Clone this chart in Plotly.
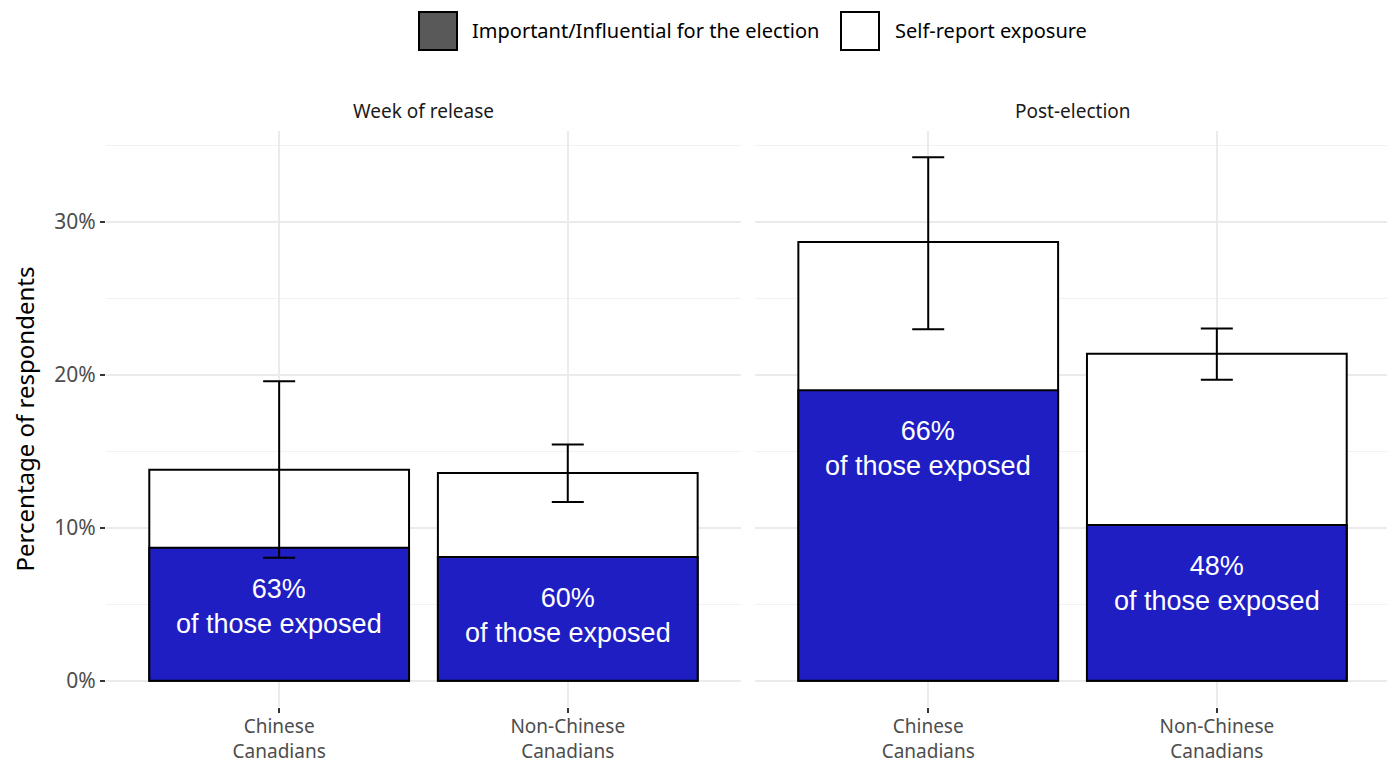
import plotly.graph_objects as go

groups = ["Chinese<br>Canadians", "Non-Chinese<br>Canadians"]
periods = ["Week of release", "Post-election"]

# percentages of respondents
exposure_week = [13.8, 13.6]
exposure_post = [28.7, 21.4]
influential_week = [8.7, 8.1]
influential_post = [19.0, 10.2]
ci_low_week = [8.05, 11.7]
ci_high_week = [19.6, 15.45]
ci_low_post = [23.0, 19.7]
ci_high_post = [34.25, 23.05]
share_week = ["63%", "60%"]
share_post = ["66%", "48%"]

BLUE = "#1e1ec3"
FONT = "Noto Sans"

panels = [
    (exposure_week, influential_week, ci_low_week, ci_high_week, share_week, "x", "y"),
    (exposure_post, influential_post, ci_low_post, ci_high_post, share_post, "x2", "y2"),
]

fig = go.Figure()
annotations = []
for expo, infl, lo, hi, share, xa, ya in panels:
    fig.add_trace(go.Bar(
        x=groups, y=expo, width=0.9, xaxis=xa, yaxis=ya,
        marker=dict(color="white", line=dict(color="black", width=2)),
        showlegend=False, hoverinfo="skip"))
    fig.add_trace(go.Bar(
        x=groups, y=infl, width=0.9, xaxis=xa, yaxis=ya,
        marker=dict(color=BLUE, line=dict(color="black", width=2)),
        showlegend=False, hoverinfo="skip"))
    fig.add_trace(go.Scatter(
        x=groups, y=expo, xaxis=xa, yaxis=ya, mode="markers",
        marker=dict(size=0.1, color="black", opacity=0),
        error_y=dict(type="data", symmetric=False,
                     array=[h - e for h, e in zip(hi, expo)],
                     arrayminus=[e - l for e, l in zip(expo, lo)],
                     color="black", thickness=2, width=16),
        showlegend=False, hoverinfo="skip"))
    for g, v, s in zip(groups, infl, share):
        annotations.append(dict(
            x=g, y=v, xref=xa, yref=ya, yanchor="top", yshift=-24,
            text=s + "<br>of those exposed", showarrow=False,
            font=dict(family="Liberation Sans", size=27, color="white")))

# facet strip titles
dom1 = [0, 0.4945]
dom2 = [0.5055, 1]
for title, dom in zip(periods, [dom1, dom2]):
    annotations.append(dict(
        x=(dom[0] + dom[1]) / 2, y=1.0, xref="paper", yref="paper",
        xanchor="center", yanchor="middle", yshift=20, text=title, showarrow=False,
        font=dict(family=FONT, size=19, color="#1a1a1a")))

# legend drawn by hand (keys larger than plotly's defaults)
# page-pixel helpers: plot area spans x 106..1390, y 131..707
def px_x(p):
    return (p - 106) / 1284

def px_y(p):
    return (707 - p) / 576

shapes = [
    dict(type="rect", xref="paper", yref="paper",
         x0=px_x(419), x1=px_x(457), y0=px_y(50), y1=px_y(12),
         fillcolor="#595959", line=dict(color="black", width=2)),
    dict(type="rect", xref="paper", yref="paper",
         x0=px_x(841), x1=px_x(879), y0=px_y(50), y1=px_y(12),
         fillcolor="white", line=dict(color="black", width=2)),
]
for label, px0 in [("Important/Influential for the election", 470), ("Self-report exposure", 893)]:
    annotations.append(dict(
        x=px_x(px0), y=px_y(31), xref="paper", yref="paper",
        xanchor="left", yanchor="middle", text=label, showarrow=False,
        font=dict(family=FONT, size=20, color="black")))

yrange = [-1.71, 35.96]
xcommon = dict(range=[-0.6, 1.6], showgrid=True, gridcolor="#ebebeb", gridwidth=1.5,
               ticks="outside", ticklen=5, tickcolor="#333333", tickwidth=1.5,
               ticklabelstandoff=-3,
               tickfont=dict(family=FONT, size=19, color="#4d4d4d"),
               showline=False, zeroline=False, type="category", automargin=False)
ycommon = dict(range=yrange, dtick=10, showgrid=True, gridcolor="#ebebeb", gridwidth=1.5,
               minor=dict(dtick=5, showgrid=True, gridcolor="#f2f2f2", gridwidth=1),
               zeroline=False, showline=False, automargin=False)

# the page has an 8px body margin, so the figure is shrunk to fit the window
fig.update_layout(
    width=1387, height=757,
    margin=dict(l=98, r=5, t=123, b=58),
    paper_bgcolor="white", plot_bgcolor="white",
    barmode="overlay",
    xaxis=dict(domain=dom1, anchor="y", **xcommon),
    xaxis2=dict(domain=dom2, anchor="y2", **xcommon),
    yaxis=dict(anchor="x", ticksuffix="%", ticks="outside", ticklen=5,
               tickcolor="#333333", tickwidth=1.5,
               tickfont=dict(family=FONT, size=21, color="#4d4d4d"),
               title=dict(text="Percentage of respondents", standoff=12,
                          font=dict(family=FONT, size=24, color="black")),
               **ycommon),
    yaxis2=dict(anchor="x2", matches="y", showticklabels=False, **ycommon),
    annotations=annotations,
    shapes=shapes,
    showlegend=False,
)

fig.write_html("out.html")
